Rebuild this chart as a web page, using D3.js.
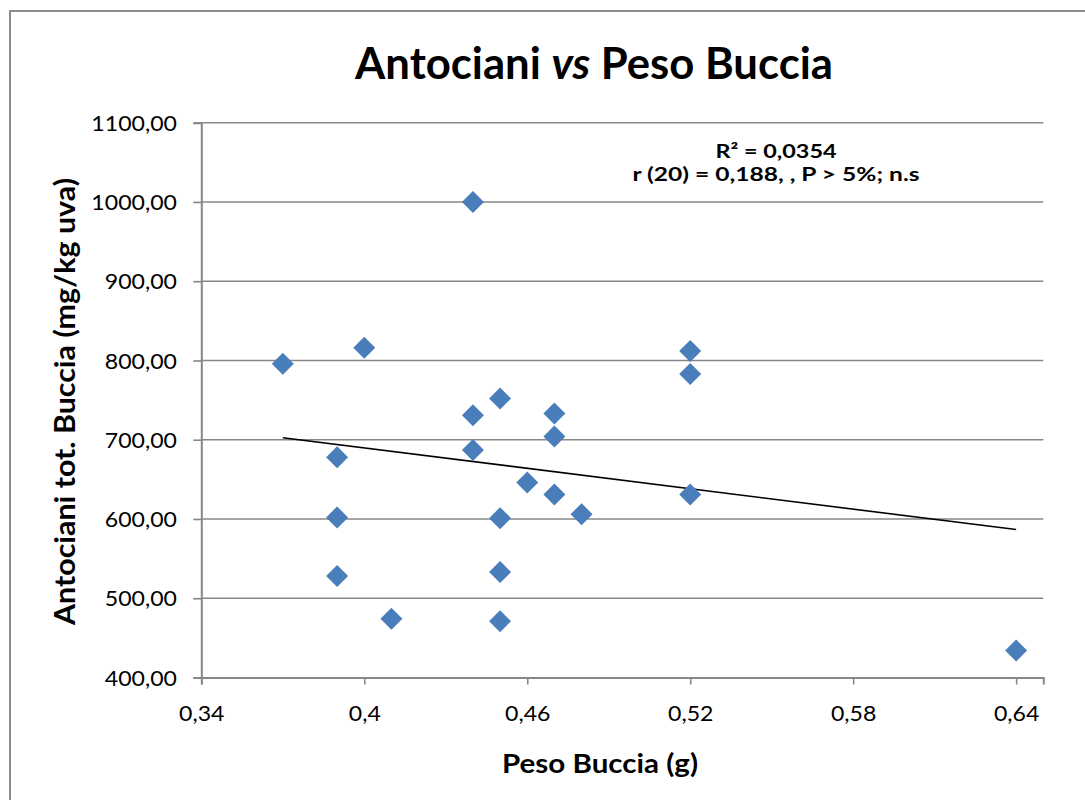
<!DOCTYPE html>
<html>
<head>
<meta charset="utf-8">
<script src="https://cdn.jsdelivr.net/npm/d3@7"></script>
<style>
  html, body { margin: 0; padding: 0; background: #fff; }
  svg { display: block; font-family: Lato, "Open Sans", "Noto Sans", sans-serif; }
</style>
</head>
<body>
<svg id="chart" width="1085" height="800"></svg>
<script>
// Skin weight (g) and total skin anthocyanins (mg/kg grapes), one entry per sample
const pesoBuccia = [0.37, 0.40, 0.44, 0.45, 0.44, 0.47, 0.47, 0.44, 0.39, 0.46, 0.47,
                    0.48, 0.39, 0.45, 0.39, 0.45, 0.41, 0.45, 0.52, 0.52, 0.52, 0.64];
const antociani  = [796, 816, 1000, 752, 731, 733, 704, 687, 678, 646, 631,
                    606, 602, 601, 528, 533, 474, 471, 812, 783, 631, 434];

const xTicks = [0.34, 0.40, 0.46, 0.52, 0.58, 0.64];
const xTickLabels = ["0,34", "0,4", "0,46", "0,52", "0,58", "0,64"];
const yTicks = [400, 500, 600, 700, 800, 900, 1000, 1100];
const yTickLabels = ["400,00", "500,00", "600,00", "700,00", "800,00", "900,00", "1000,00", "1100,00"];

const titleMain = "Antociani";
const titleItalic = "vs";
const titleRest = "Peso Buccia";
const xTitle = "Peso Buccia (g)";
const yTitle = "Antociani tot. Buccia (mg/kg uva)";
const statLines = ["R² = 0,0354", "r (20) = 0,188, , P > 5%; n.s"];

const svg = d3.select("#chart");
const plot = { left: 201.3, right: 1043.3, top: 122.7, bottom: 677.5 };
const gridColor = "#878787";
const tickFont = 21;
const stretch = 1.1; // tick glyphs are drawn slightly wide

const x = d3.scaleLinear().domain([0.34, 0.65]).range([plot.left, plot.right]);
const y = d3.scaleLinear().domain([400, 1100]).range([plot.bottom, plot.top]);

function widen(sel, k) {
  sel.each(function () {
    const w = this.getComputedTextLength();
    d3.select(this).attr("textLength", w * k).attr("lengthAdjust", "spacingAndGlyphs");
  });
}

// outer frame
svg.append("rect")
  .attr("x", 10).attr("y", 11).attr("width", 1100).attr("height", 820)
  .attr("fill", "#fff").attr("stroke", "#8c8c8c").attr("stroke-width", 2);

// horizontal gridlines
svg.append("g").selectAll("line")
  .data(yTicks.slice(1))
  .join("line")
  .attr("x1", plot.left).attr("x2", plot.right)
  .attr("y1", d => y(d)).attr("y2", d => y(d))
  .attr("stroke", gridColor).attr("stroke-width", 1.6);

// y axis
const yAxis = svg.append("g")
  .attr("transform", `translate(${plot.left},0)`)
  .call(d3.axisLeft(y).tickValues(yTicks).tickSize(8).tickPadding(16)
    .tickFormat((d, i) => yTickLabels[i]));
yAxis.select(".domain").attr("stroke", gridColor).attr("stroke-width", 2);
yAxis.selectAll(".tick line").attr("stroke", gridColor).attr("stroke-width", 1.6);
yAxis.selectAll(".tick text")
  .attr("font-size", tickFont).attr("fill", "#000")
  .attr("font-family", "Lato, 'Open Sans', sans-serif")
  .attr("x", -(plot.left - 177)).attr("dy", "0.36em")
  .call(widen, stretch);

// x axis
const xAxis = svg.append("g")
  .attr("transform", `translate(0,${plot.bottom})`)
  .call(d3.axisBottom(x).tickValues(xTicks).tickSize(7)
    .tickFormat((d, i) => xTickLabels[i]));
xAxis.select(".domain").attr("stroke", gridColor).attr("stroke-width", 2);
xAxis.selectAll(".tick line").attr("stroke", gridColor).attr("stroke-width", 1.6);
xAxis.selectAll(".tick text")
  .attr("font-size", tickFont).attr("fill", "#000")
  .attr("font-family", "Lato, 'Open Sans', sans-serif")
  .attr("y", 43).attr("dy", 0)
  .call(widen, stretch);

// least-squares trendline over the sampled range
const pts = pesoBuccia.map((v, i) => ({ x: v, y: antociani[i] }));
const mx = d3.mean(pts, d => d.x), my = d3.mean(pts, d => d.y);
const sxy = d3.sum(pts, d => (d.x - mx) * (d.y - my));
const sxx = d3.sum(pts, d => (d.x - mx) ** 2);
const slope = sxy / sxx, intercept = my - slope * mx;
const [xmin, xmax] = d3.extent(pesoBuccia);
svg.append("line")
  .attr("x1", x(xmin)).attr("y1", y(intercept + slope * xmin))
  .attr("x2", x(xmax)).attr("y2", y(intercept + slope * xmax))
  .attr("stroke", "#000").attr("stroke-width", 1.6);

// diamond markers
const h = 11;
svg.append("g").selectAll("path")
  .data(pts)
  .join("path")
  .attr("transform", d => `translate(${x(d.x)},${y(d.y)})`)
  .attr("d", `M0,${-h}L${h},0L0,${h}L${-h},0Z`)
  .attr("fill", "#4a7ebb");

// title
const title = svg.append("text")
  .attr("text-anchor", "middle")
  .attr("font-size", 43).attr("font-weight", "bold").attr("fill", "#000");
title.append("tspan").text(titleMain + " ");
title.append("tspan").attr("font-style", "italic").text(titleItalic);
title.append("tspan").text(" " + titleRest);
const tw = title.node().getComputedTextLength();
title.attr("transform", `translate(594,79) scale(${478 / tw},1)`);

// axis titles
svg.append("text")
  .attr("x", 600).attr("y", 773.3)
  .attr("text-anchor", "middle")
  .attr("font-size", 27).attr("font-weight", "bold").attr("fill", "#000")
  .text(xTitle)
  .attr("textLength", 196).attr("lengthAdjust", "spacingAndGlyphs");

svg.append("text")
  .attr("transform", "translate(75,401.5) rotate(-90)")
  .attr("text-anchor", "middle")
  .attr("font-size", 28).attr("font-weight", "bold").attr("fill", "#000")
  .text(yTitle)
  .attr("textLength", 447).attr("lengthAdjust", "spacingAndGlyphs");

// regression statistics
const statWidths = [121, 287];
const statBase = [157.5, 181];
svg.append("g").selectAll("text")
  .data(statLines)
  .join("text")
  .attr("x", 776).attr("y", (d, i) => statBase[i])
  .attr("text-anchor", "middle")
  .attr("font-size", 19).attr("font-weight", "bold").attr("fill", "#000")
  .text(d => d)
  .attr("textLength", (d, i) => statWidths[i]).attr("lengthAdjust", "spacingAndGlyphs");
</script>
</body>
</html>
